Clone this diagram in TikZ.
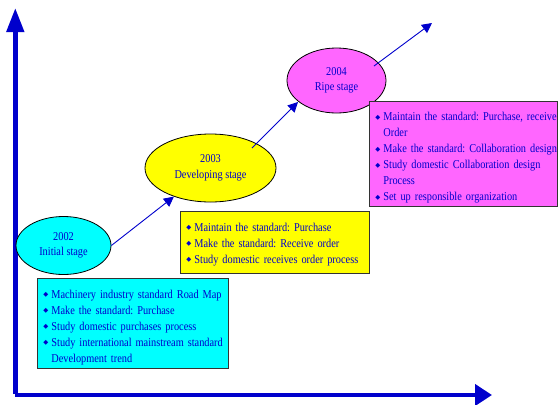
\documentclass[tikz,border=0pt]{standalone}
\usepackage{fontspec}
\setmainfont[FakeStretch=0.86]{Liberation Serif}
\newfontfamily\symfont{DejaVu Sans}
\usetikzlibrary{arrows.meta,shapes.geometric}
\frenchspacing

\definecolor{axisblue}{RGB}{0,0,204}
\definecolor{txtblue}{RGB}{0,0,204}
\definecolor{stagecyan}{RGB}{0,255,255}
\definecolor{stageyellow}{RGB}{255,255,0}
\definecolor{stagepink}{RGB}{255,102,255}

% bullet line and continuation line inside the task boxes
\newcommand\bul{\makebox[8pt][l]{\raisebox{1.2pt}{\symfont\fontsize{6.5}{6.5}\selectfont ◆}}}
\newcommand\bl[1]{\mbox{\bul#1}}
\newcommand\cl[1]{\mbox{\hspace*{8pt}#1}}
% extra top padding for a box's first line
\newcommand\toppad[1]{\rule{0pt}{#1}}

\tikzset{
  axis/.style={draw=axisblue, line width=4.6pt},
  stage/.style={ellipse, draw=black, line width=0.8pt, text=txtblue, align=center,
    inner sep=0pt, font=\fontsize{12}{15.5}\selectfont},
  infobox/.style={rectangle, draw=black!80, line width=0.8pt, anchor=north west,
    align=left, inner xsep=6pt, inner ysep=0pt, text=txtblue,
    font=\fontsize{12}{16}\selectfont},
  link/.style={draw=axisblue, line width=0.9pt, -{Triangle[length=10pt,width=10pt]}}
}

\begin{document}
\begin{tikzpicture}[x=1pt,y=-1pt]
\useasboundingbox (0,0) rectangle (558,405);

% axes
\coordinate (ybottom) at (15.3,394);
\coordinate (ytop) at (15.3,8);
\coordinate (origin) at (15,395);
\coordinate (xend) at (492,395);
\draw[axis, -{Triangle[length=24pt,width=17pt]}] (ybottom) -- (ytop);
\draw[axis, -{Triangle[length=17pt,width=21pt]}] (origin) -- (xend);

% stages
\node[stage, fill=stagecyan, minimum width=95pt, minimum height=58pt] (e1) at (63.5,245.5) {2002\\Initial stage};
\node[stage, fill=stageyellow, minimum width=131pt, minimum height=68pt] (e2) at (210.5,168) {2003\\Developing stage};
\node[stage, fill=stagepink, minimum width=99pt, minimum height=65pt] (e3) at (336.5,80.5) {2004\\Ripe stage};

% progress arrows
\coordinate (s2) at (252,148);
\coordinate (t2) at (298,102);
\coordinate (s3) at (374,66);
\coordinate (t3) at (432,23);
\draw[link] (e1.east) -- (e2);
\draw[link] (s2) -- (t2);
\draw[link] (s3) -- (t3);

% task boxes
\node[infobox, fill=stagecyan, minimum width=191pt, minimum height=90pt, text width=179pt] (b1) at (37,278)
  {\toppad{16pt}\bl{Machinery industry standard Road Map}\\
   \bl{Make the standard: Purchase}\\
   \bl{Study domestic purchases process}\\
   \bl{Study international mainstream standard}\\
   \cl{Development trend}};
\node[infobox, fill=stageyellow, minimum width=189pt, minimum height=62pt, text width=177pt] (b2) at (180,211)
  {\toppad{12pt}\bl{Maintain the standard: Purchase}\\
   \bl{Make the standard: Receive order}\\
   \bl{Study domestic receives order process}};
\node[infobox, fill=stagepink, minimum width=188pt, minimum height=105pt, text width=176pt] (b3) at (369,101)
  {\toppad{16pt}\bl{Maintain the standard: Purchase, receive}\\
   \cl{Order}\\
   \bl{Make the standard: Collaboration design}\\
   \bl{Study domestic Collaboration design}\\
   \cl{Process}\\
   \bl{Set up responsible organization}};
\end{tikzpicture}
\end{document}
